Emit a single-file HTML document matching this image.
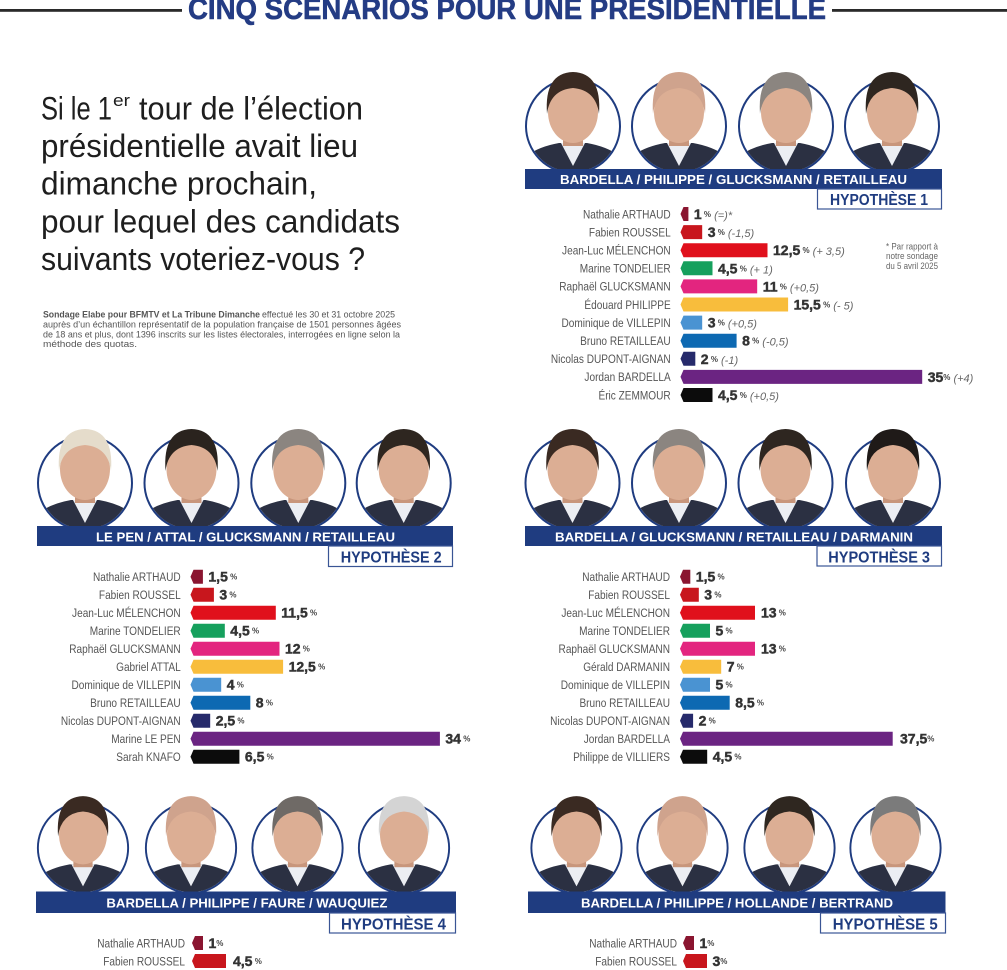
<!DOCTYPE html>
<html><head><meta charset="utf-8"><style>
html,body{margin:0;padding:0;background:#fff;width:1007px;height:970px;overflow:hidden}
svg{display:block}
text{font-family:"Liberation Sans",Arial,sans-serif}
.lb{font-size:12px;fill:#555;text-anchor:end}
.v{font-size:14px;font-weight:bold;fill:#333;stroke:#333;stroke-width:0.45}
.p{font-size:8px;font-weight:bold;fill:#444;stroke:none}
.c{font-size:11px;font-style:italic;font-weight:normal;fill:#666;stroke:none}
.bt{font-size:12.5px;font-weight:bold;fill:#fff}
.hy{font-size:16px;font-weight:bold;fill:#1f3c80}
.h{font-size:32px;fill:#1e1e1e}
.s{font-size:9px;fill:#555}
</style></head><body>
<svg width="1007" height="970" viewBox="0 0 1007 970" xmlns="http://www.w3.org/2000/svg">
<defs>
<clipPath id="cc"><circle r="46"/></clipPath>
<g id="f">
 <circle r="47" fill="#fff" stroke="#1f3c80" stroke-width="2"/>
 <g clip-path="url(#cc)">
  <path d="M-55,60 L-55,38 Q-42,22 -14,17 L14,17 Q42,22 55,38 L55,60 Z" fill="#2b3042"/>
  <path d="M-12,17 L0,40 L12,17 Z" fill="#eceef3"/>
 </g>
 <rect x="-10" y="2" width="20" height="18" fill="#c8967c"/>
 <ellipse cx="0" cy="-14" rx="25" ry="31" fill="#dcae94"/>
 <path d="M-26,-12 Q-29,-53 0,-54 Q29,-53 26,-12 Q23,-36 0,-38 Q-23,-36 -26,-12 Z" fill="currentColor"/>
</g>
</defs>

<!-- top title -->
<rect x="0" y="9" width="182" height="2.8" fill="#2a2a2a"/>
<rect x="832" y="9" width="175" height="2.8" fill="#2a2a2a"/>
<text x="188" y="19" font-size="30" font-weight="bold" fill="#243c84" stroke="#243c84" stroke-width="0.6" textLength="638" lengthAdjust="spacingAndGlyphs">CINQ SCENARIOS POUR UNE PRESIDENTIELLE</text>

<!-- question -->
<text class="h" x="41" y="119.3" textLength="71" lengthAdjust="spacingAndGlyphs">Si le 1</text>
<text x="113" y="106" font-size="17" fill="#1e1e1e" textLength="17" lengthAdjust="spacingAndGlyphs">er</text>
<text class="h" x="139" y="119.3" textLength="224" lengthAdjust="spacingAndGlyphs">tour de l’élection</text>
<text class="h" x="41" y="157" textLength="317" lengthAdjust="spacingAndGlyphs">présidentielle avait lieu</text>
<text class="h" x="41" y="194.7" textLength="276" lengthAdjust="spacingAndGlyphs">dimanche prochain,</text>
<text class="h" x="41" y="232.4" textLength="359" lengthAdjust="spacingAndGlyphs">pour lequel des candidats</text>
<text class="h" x="41" y="270.1" textLength="324" lengthAdjust="spacingAndGlyphs">suivants voteriez-vous ?</text>

<text class="s" x="43" y="317.3" font-weight="bold" textLength="217" lengthAdjust="spacingAndGlyphs">Sondage Elabe pour BFMTV et La Tribune Dimanche</text>
<text class="s" x="262" y="317.3" textLength="133" lengthAdjust="spacingAndGlyphs">effectué les 30 et 31 octobre 2025</text>
<text class="s" x="43" y="327.3" textLength="358" lengthAdjust="spacingAndGlyphs">auprès d’un échantillon représentatif de la population française de 1501 personnes âgées</text>
<text class="s" x="43" y="337.3" textLength="357" lengthAdjust="spacingAndGlyphs">de 18 ans et plus, dont 1396 inscrits sur les listes électorales, interrogées en ligne selon la</text>
<text class="s" x="43" y="347" textLength="94" lengthAdjust="spacingAndGlyphs">méthode des quotas.</text>

<!-- ================= HYPOTHESE 1 ================= -->
<use href="#f" transform="translate(573,126)" color="#3a2a22"/>
<use href="#f" transform="translate(679,126)" color="#cfa38d"/>
<use href="#f" transform="translate(786,126)" color="#8b8580"/>
<use href="#f" transform="translate(892,126)" color="#2e2620"/>
<rect x="525" y="169" width="417" height="20" fill="#1f3c80"/>
<text class="bt" x="560" y="184" textLength="347" lengthAdjust="spacingAndGlyphs">BARDELLA  / PHILIPPE / GLUCKSMANN / RETAILLEAU</text>
<rect x="817.5" y="189" width="124" height="20" fill="#fff" stroke="#3a5595" stroke-width="1.2"/>
<text class="hy" x="830" y="205" textLength="98" lengthAdjust="spacingAndGlyphs">HYPOTHÈSE 1</text>

<g transform="translate(670.7,0) scale(0.84,1)">
<text class="lb" x="0" y="218.3">Nathalie ARTHAUD</text>
<text class="lb" x="0" y="236.4">Fabien ROUSSEL</text>
<text class="lb" x="0" y="254.5">Jean-Luc MÉLENCHON</text>
<text class="lb" x="0" y="272.6">Marine TONDELIER</text>
<text class="lb" x="0" y="290.7">Raphaël GLUCKSMANN</text>
<text class="lb" x="0" y="308.8">Édouard PHILIPPE</text>
<text class="lb" x="0" y="326.9">Dominique de VILLEPIN</text>
<text class="lb" x="0" y="345">Bruno RETAILLEAU</text>
<text class="lb" x="0" y="363.1">Nicolas DUPONT-AIGNAN</text>
<text class="lb" x="0" y="381.2">Jordan BARDELLA</text>
<text class="lb" x="0" y="399.3">Éric ZEMMOUR</text>
</g>
<path d="M680.5 214l3-7h4.9v14h-4.9z" fill="#8a1530"/>
<path d="M680.5 232.1l3-7h18.7v14h-18.7z" fill="#c8161d"/>
<path d="M680.5 250.2l3-7h84v14h-84z" fill="#e0101c"/>
<path d="M680.5 268.3l3-7h29v14h-29z" fill="#16a05d"/>
<path d="M680.5 286.4l3-7h73.7v14h-73.7z" fill="#e3257f"/>
<path d="M680.5 304.5l3-7h104.6v14h-104.6z" fill="#f8bd3c"/>
<path d="M680.5 322.6l3-7h18.7v14h-18.7z" fill="#4a93d2"/>
<path d="M680.5 340.7l3-7h53.1v14h-53.1z" fill="#0d69b2"/>
<path d="M680.5 358.8l3-7h11.8v14h-11.8z" fill="#262a6b"/>
<path d="M680.5 376.9l3-7h238.7v14h-238.7z" fill="#6b2482"/>
<path d="M680.5 395l3-7h29v14h-29z" fill="#0c0c0c"/>

<text class="v" x="693.9" y="219">1<tspan class="p" dy="-2"> %</tspan><tspan class="c" dy="2"> (=)*</tspan></text>
<text class="v" x="707.7" y="237.1">3<tspan class="p" dy="-2"> %</tspan><tspan class="c" dy="2"> (-1,5)</tspan></text>
<text class="v" x="773" y="255.2">12,5<tspan class="p" dy="-2"> %</tspan><tspan class="c" dy="2"> (+ 3,5)</tspan></text>
<text class="v" x="718" y="273.3">4,5<tspan class="p" dy="-2"> %</tspan><tspan class="c" dy="2"> (+ 1)</tspan></text>
<text class="v" x="762.7" y="291.4">11<tspan class="p" dy="-2"> %</tspan><tspan class="c" dy="2"> (+0,5)</tspan></text>
<text class="v" x="793.6" y="309.5">15,5<tspan class="p" dy="-2"> %</tspan><tspan class="c" dy="2"> (- 5)</tspan></text>
<text class="v" x="707.7" y="327.6">3<tspan class="p" dy="-2"> %</tspan><tspan class="c" dy="2"> (+0,5)</tspan></text>
<text class="v" x="742.1" y="345.7">8<tspan class="p" dy="-2"> %</tspan><tspan class="c" dy="2"> (-0,5)</tspan></text>
<text class="v" x="700.8" y="363.8">2<tspan class="p" dy="-2"> %</tspan><tspan class="c" dy="2"> (-1)</tspan></text>
<text class="v" x="927.7" y="381.9">35<tspan class="p" dy="-2">%</tspan><tspan class="c" dy="2"> (+4)</tspan></text>
<text class="v" x="718" y="400">4,5<tspan class="p" dy="-2"> %</tspan><tspan class="c" dy="2"> (+0,5)</tspan></text>

<text x="886" y="249.5" font-size="9" fill="#666" textLength="52" lengthAdjust="spacingAndGlyphs">* Par rapport à</text>
<text x="886" y="259" font-size="9" fill="#666" textLength="52" lengthAdjust="spacingAndGlyphs">notre sondage</text>
<text x="886" y="269" font-size="9" fill="#666" textLength="52" lengthAdjust="spacingAndGlyphs">du 5 avril 2025</text>

<!-- ================= HYPOTHESE 2 ================= -->
<use href="#f" transform="translate(85,483)" color="#e5dccb"/>
<use href="#f" transform="translate(191.5,483)" color="#2a231e"/>
<use href="#f" transform="translate(298.3,483)" color="#8b8580"/>
<use href="#f" transform="translate(403.7,483)" color="#2e2620"/>
<rect x="37" y="526" width="416" height="20" fill="#1f3c80"/>
<text class="bt" x="96" y="541.5" textLength="299" lengthAdjust="spacingAndGlyphs">LE PEN / ATTAL / GLUCKSMANN / RETAILLEAU</text>
<rect x="328.5" y="546" width="124" height="20.5" fill="#fff" stroke="#3a5595" stroke-width="1.2"/>
<text class="hy" x="340.7" y="562.3" textLength="101" lengthAdjust="spacingAndGlyphs">HYPOTHÈSE 2</text>

<g transform="translate(180.7,0) scale(0.84,1)">
<text class="lb" x="0" y="581">Nathalie ARTHAUD</text>
<text class="lb" x="0" y="599">Fabien ROUSSEL</text>
<text class="lb" x="0" y="617">Jean-Luc MÉLENCHON</text>
<text class="lb" x="0" y="635">Marine TONDELIER</text>
<text class="lb" x="0" y="653">Raphaël GLUCKSMANN</text>
<text class="lb" x="0" y="671">Gabriel ATTAL</text>
<text class="lb" x="0" y="689">Dominique de VILLEPIN</text>
<text class="lb" x="0" y="707">Bruno RETAILLEAU</text>
<text class="lb" x="0" y="725">Nicolas DUPONT-AIGNAN</text>
<text class="lb" x="0" y="743">Marine LE PEN</text>
<text class="lb" x="0" y="761">Sarah KNAFO</text>
</g>
<path d="M190.5 576.7l3-7h9.4v14h-9.4z" fill="#8a1530"/>
<path d="M190.5 594.7l3-7h20.4v14h-20.4z" fill="#c8161d"/>
<path d="M190.5 612.7l3-7h82.3v14h-82.3z" fill="#e0101c"/>
<path d="M190.5 630.7l3-7h31.3v14h-31.3z" fill="#16a05d"/>
<path d="M190.5 648.7l3-7h86v14h-86z" fill="#e3257f"/>
<path d="M190.5 666.7l3-7h89.6v14h-89.6z" fill="#f8bd3c"/>
<path d="M190.5 684.7l3-7h27.7v14h-27.7z" fill="#4a93d2"/>
<path d="M190.5 702.7l3-7h56.8v14h-56.8z" fill="#0d69b2"/>
<path d="M190.5 720.7l3-7h16.7v14h-16.7z" fill="#262a6b"/>
<path d="M190.5 738.7l3-7h246.4v14h-246.4z" fill="#6b2482"/>
<path d="M190.5 756.7l3-7h45.9v14h-45.9z" fill="#0c0c0c"/>

<text class="v" x="208.4" y="581.7">1,5<tspan class="p" dy="-2"> %</tspan></text>
<text class="v" x="219.4" y="599.7">3<tspan class="p" dy="-2"> %</tspan></text>
<text class="v" x="281.3" y="617.7">11,5<tspan class="p" dy="-2"> %</tspan></text>
<text class="v" x="230.3" y="635.7">4,5<tspan class="p" dy="-2"> %</tspan></text>
<text class="v" x="285" y="653.7">12<tspan class="p" dy="-2"> %</tspan></text>
<text class="v" x="288.6" y="671.7">12,5<tspan class="p" dy="-2"> %</tspan></text>
<text class="v" x="226.7" y="689.7">4<tspan class="p" dy="-2"> %</tspan></text>
<text class="v" x="255.8" y="707.7">8<tspan class="p" dy="-2"> %</tspan></text>
<text class="v" x="215.7" y="725.7">2,5<tspan class="p" dy="-2"> %</tspan></text>
<text class="v" x="445.4" y="743.7">34<tspan class="p" dy="-2"> %</tspan></text>
<text class="v" x="244.9" y="761.7">6,5<tspan class="p" dy="-2"> %</tspan></text>

<!-- ================= HYPOTHESE 3 ================= -->
<use href="#f" transform="translate(572.5,483)" color="#3a2a22"/>
<use href="#f" transform="translate(679,483)" color="#8b8580"/>
<use href="#f" transform="translate(785.5,483)" color="#2e2620"/>
<use href="#f" transform="translate(893,483)" color="#1f1a18"/>
<rect x="525" y="526" width="417" height="20" fill="#1f3c80"/>
<text class="bt" x="555" y="541.5" textLength="358" lengthAdjust="spacingAndGlyphs">BARDELLA  / GLUCKSMANN / RETAILLEAU / DARMANIN</text>
<rect x="817" y="546" width="124.5" height="20" fill="#fff" stroke="#3a5595" stroke-width="1.2"/>
<text class="hy" x="828.3" y="562.3" textLength="101.7" lengthAdjust="spacingAndGlyphs">HYPOTHÈSE 3</text>

<g transform="translate(670,0) scale(0.84,1)">
<text class="lb" x="0" y="581">Nathalie ARTHAUD</text>
<text class="lb" x="0" y="599">Fabien ROUSSEL</text>
<text class="lb" x="0" y="617">Jean-Luc MÉLENCHON</text>
<text class="lb" x="0" y="635">Marine TONDELIER</text>
<text class="lb" x="0" y="653">Raphaël GLUCKSMANN</text>
<text class="lb" x="0" y="671">Gérald DARMANIN</text>
<text class="lb" x="0" y="689">Dominique de VILLEPIN</text>
<text class="lb" x="0" y="707">Bruno RETAILLEAU</text>
<text class="lb" x="0" y="725">Nicolas DUPONT-AIGNAN</text>
<text class="lb" x="0" y="743">Jordan BARDELLA</text>
<text class="lb" x="0" y="761">Philippe de VILLIERS</text>
</g>
<path d="M680 576.7l3-7h7.3v14h-7.3z" fill="#8a1530"/>
<path d="M680 594.7l3-7h15.8v14h-15.8z" fill="#c8161d"/>
<path d="M680 612.7l3-7h72v14h-72z" fill="#e0101c"/>
<path d="M680 630.7l3-7h27v14h-27z" fill="#16a05d"/>
<path d="M680 648.7l3-7h72v14h-72z" fill="#e3257f"/>
<path d="M680 666.7l3-7h38.2v14h-38.2z" fill="#f8bd3c"/>
<path d="M680 684.7l3-7h27v14h-27z" fill="#4a93d2"/>
<path d="M680 702.7l3-7h46.7v14h-46.7z" fill="#0d69b2"/>
<path d="M680 720.7l3-7h10.1v14h-10.1z" fill="#262a6b"/>
<path d="M680 738.7l3-7h209.7v14h-209.7z" fill="#6b2482"/>
<path d="M680 756.7l3-7h24.2v14h-24.2z" fill="#0c0c0c"/>

<text class="v" x="695.8" y="581.7">1,5<tspan class="p" dy="-2"> %</tspan></text>
<text class="v" x="704.3" y="599.7">3<tspan class="p" dy="-2"> %</tspan></text>
<text class="v" x="761" y="617.7">13<tspan class="p" dy="-2"> %</tspan></text>
<text class="v" x="715.5" y="635.7">5<tspan class="p" dy="-2"> %</tspan></text>
<text class="v" x="761" y="653.7">13<tspan class="p" dy="-2"> %</tspan></text>
<text class="v" x="726.7" y="671.7">7<tspan class="p" dy="-2"> %</tspan></text>
<text class="v" x="715.5" y="689.7">5<tspan class="p" dy="-2"> %</tspan></text>
<text class="v" x="735.2" y="707.7">8,5<tspan class="p" dy="-2"> %</tspan></text>
<text class="v" x="698.6" y="725.7">2<tspan class="p" dy="-2"> %</tspan></text>
<text class="v" x="900" y="743.7">37,5<tspan class="p" dy="-2">%</tspan></text>
<text class="v" x="712.7" y="761.7">4,5<tspan class="p" dy="-2"> %</tspan></text>

<!-- ================= HYPOTHESE 4 ================= -->
<use href="#f" transform="translate(83,848) scale(0.96)" color="#3a2a22"/>
<use href="#f" transform="translate(191,848) scale(0.96)" color="#cfa38d"/>
<use href="#f" transform="translate(297.5,848) scale(0.96)" color="#6f6a66"/>
<use href="#f" transform="translate(404,848) scale(0.96)" color="#d4d4d4"/>
<rect x="36" y="891.5" width="420" height="21.5" fill="#1f3c80"/>
<text class="bt" x="106.4" y="907.3" textLength="281" lengthAdjust="spacingAndGlyphs">BARDELLA / PHILIPPE / FAURE / WAUQUIEZ</text>
<rect x="329.5" y="913" width="126" height="20" fill="#fff" stroke="#3a5595" stroke-width="1.2"/>
<text class="hy" x="341" y="929.3" textLength="105" lengthAdjust="spacingAndGlyphs">HYPOTHÈSE 4</text>

<g transform="translate(185,0) scale(0.84,1)">
<text class="lb" x="0" y="947.3">Nathalie ARTHAUD</text>
<text class="lb" x="0" y="965.3">Fabien ROUSSEL</text>
</g>
<path d="M192 943l3-7h8v14h-8z" fill="#8a1530"/>
<path d="M192 961l3-7h31v14h-31z" fill="#c8161d"/>
<text class="v" x="208.5" y="948">1<tspan class="p" dy="-2">%</tspan></text>
<text class="v" x="233" y="966">4,5<tspan class="p" dy="-2"> %</tspan></text>

<!-- ================= HYPOTHESE 5 ================= -->
<use href="#f" transform="translate(576.5,848) scale(0.96)" color="#3a2a22"/>
<use href="#f" transform="translate(682.5,848) scale(0.96)" color="#cfa38d"/>
<use href="#f" transform="translate(789.5,848) scale(0.96)" color="#2f2720"/>
<use href="#f" transform="translate(895.5,848) scale(0.96)" color="#7b7b7b"/>
<rect x="528" y="891.5" width="417.5" height="21.5" fill="#1f3c80"/>
<text class="bt" x="581" y="907.3" textLength="312" lengthAdjust="spacingAndGlyphs">BARDELLA / PHILIPPE / HOLLANDE / BERTRAND</text>
<rect x="820.5" y="913" width="125" height="20" fill="#fff" stroke="#3a5595" stroke-width="1.2"/>
<text class="hy" x="832.7" y="929.3" textLength="105" lengthAdjust="spacingAndGlyphs">HYPOTHÈSE 5</text>

<g transform="translate(677,0) scale(0.84,1)">
<text class="lb" x="0" y="947.3">Nathalie ARTHAUD</text>
<text class="lb" x="0" y="965.3">Fabien ROUSSEL</text>
</g>
<path d="M683 943l3-7h8v14h-8z" fill="#8a1530"/>
<path d="M683 961l3-7h21v14h-21z" fill="#c8161d"/>
<text class="v" x="699.5" y="948">1<tspan class="p" dy="-2">%</tspan></text>
<text class="v" x="712.5" y="966">3<tspan class="p" dy="-2">%</tspan></text>
</svg>
</body></html>
